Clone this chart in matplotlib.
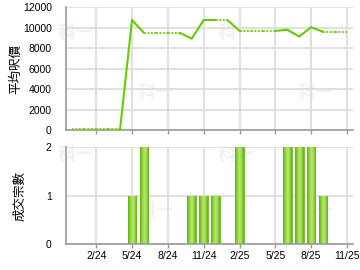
import numpy as np
import pandas as pd
import matplotlib
matplotlib.use('Agg')
import matplotlib.pyplot as plt
from matplotlib.colors import LinearSegmentedColormap

plt.rcParams['font.family'] = ['Liberation Sans', 'Noto Sans CJK TC', 'DejaVu Sans']

# monthly average price per sq ft (Dec 2023 .. Nov 2025)
months = ['2023-12', '2024-01', '2024-02', '2024-03', '2024-04', '2024-05', '2024-06',
          '2024-07', '2024-08', '2024-09', '2024-10', '2024-11', '2024-12', '2025-01',
          '2025-02', '2025-03', '2025-04', '2025-05', '2025-06', '2025-07', '2025-08',
          '2025-09', '2025-10', '2025-11']
avg_price = [60, 60, 60, 60, 60, 10750, 9500, 9500, 9500, 9500, 8950, 10750, 10750,
             10750, 9700, 9700, 9700, 9700, 9800, 9150, 10050, 9600, 9600, 9600]
# segments drawn solid (ending at a month with a transaction)
solid_seg = [False, False, False, False, True, True, False, False, False, True, True,
             True, False, True, False, False, False, True, True, True, True, False, False]

# transaction counts
deal_months = ['2024-05', '2024-06', '2024-10', '2024-11', '2024-12', '2025-02',
               '2025-06', '2025-07', '2025-08', '2025-09']
deal_counts = [1, 2, 1, 1, 1, 2, 2, 2, 2, 1]

tick_months = ['2024-02', '2024-05', '2024-08', '2024-11', '2025-02', '2025-05',
               '2025-08', '2025-11']
tick_labels = ['2/24', '5/24', '8/24', '11/24', '2/25', '5/25', '8/25', '11/25']

base = pd.Period('2024-02', 'M')
def midx(m):
    return (pd.Period(m, 'M') - base).n

x = np.array([midx(m) for m in months])
y = np.array(avg_price, dtype=float)
bx = np.array([midx(m) for m in deal_months])
tx = [midx(m) for m in tick_months]

line_c = '#66cc00'
grid_c = '#dddddd'
spine_c = '#999999'

fig = plt.figure(figsize=(3.6, 2.7), dpi=100)
ax1 = fig.add_axes([0.1825, 0.5185, 0.798, 0.4544])
ax2 = fig.add_axes([0.1825, 0.0963, 0.798, 0.3585])

xlim = (-2.55, 21.5)

for ax in (ax1, ax2):
    ax.set_xlim(*xlim)
    for s in ('top', 'right'):
        ax.spines[s].set_visible(False)
    for s in ('left', 'bottom'):
        ax.spines[s].set_color(spine_c)
        ax.spines[s].set_linewidth(1.2)
    ax.set_xticks(tx)
    ax.grid(True, color=grid_c, linewidth=1.3)
    ax.set_axisbelow(True)
    ax.tick_params(axis='x', length=3, color=spine_c, width=1, labelsize=7.5, pad=2)
    ax.tick_params(axis='y', length=0, labelsize=7.5, pad=10)
    ax.patch.set_alpha(0)

# watermarks (figure pixel positions of their centres)
for wx, wy in [(76, 32), (236, 32), (156, 93), (316, 93),
               (76, 154), (236, 154), (156, 211), (316, 211)]:
    fig.text(wx / 360, 1 - wy / 270, '科一', fontsize=13, fontweight='bold',
             color='#f1f1f1', family=['Noto Sans CJK TC'], ha='center', va='center', zorder=-1)

# price line: solid where a deal happened, dotted otherwise
for i in range(len(x) - 1):
    if solid_seg[i]:
        ax1.plot(x[i:i + 2], y[i:i + 2], color=line_c, lw=1.5, solid_capstyle='round', zorder=3)
    else:
        ax1.plot(x[i:i + 2], y[i:i + 2], color='#77d411', lw=1.5,
                 linestyle=(0, (0.9, 0.75)), dash_capstyle='butt', zorder=3)

ax1.set_ylim(0, 12000)
ax1.set_yticks(range(0, 12001, 2000))
ax1.set_xticklabels([])
ax1.set_ylabel('平均呎價', family=['Noto Sans CJK TC'], fontsize=9, labelpad=0)

# bars with a horizontal gradient
cmap = LinearSegmentedColormap.from_list('g', ['#5faf10', '#8fd43c', '#b6e870', '#9cdb4c', '#5faf10'])
grad = np.linspace(0, 1, 64).reshape(1, -1)
bars = ax2.bar(bx, deal_counts, width=0.72, color='#8fd43c', edgecolor='#66b818', linewidth=0.6, zorder=2)
for b in bars:
    x0, w, h = b.get_x(), b.get_width(), b.get_height()
    im = ax2.imshow(grad, cmap=cmap, extent=(x0, x0 + w, 0, h), aspect='auto', zorder=2.5)
    im.set_clip_path(b)
ax2.set_xlim(*xlim)
ax2.set_ylim(0, 2)
ax2.set_yticks([0, 1, 2])
ax2.set_xticklabels(tick_labels)
ax2.set_ylabel('成交宗數', family=['Noto Sans CJK TC'], fontsize=9, labelpad=14)

fig.savefig('out.png', dpi=100)
